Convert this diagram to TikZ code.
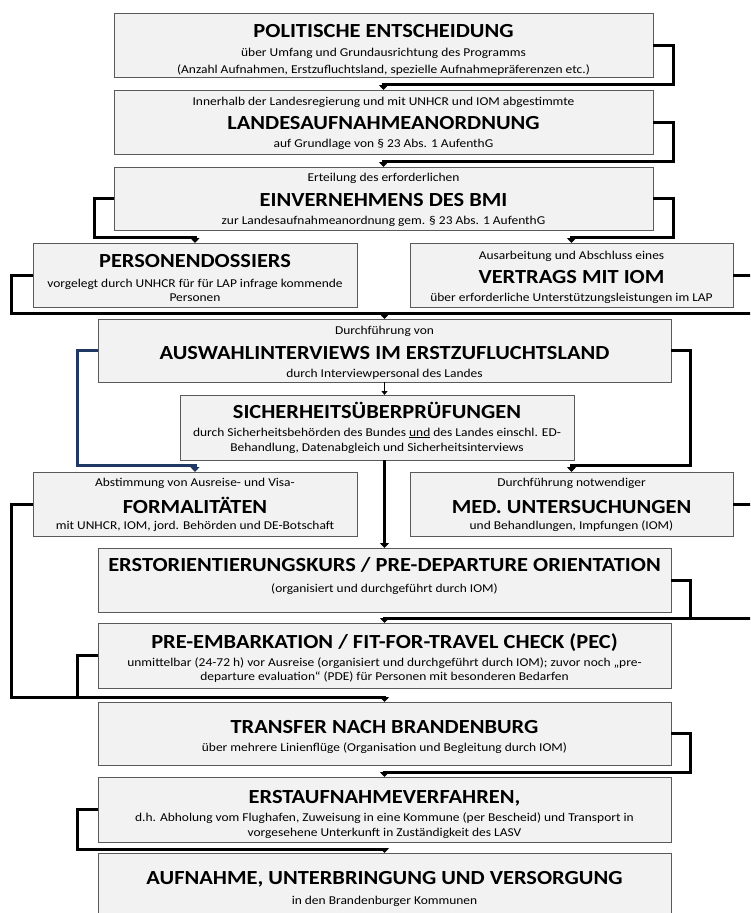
\documentclass[tikz,border=0pt]{standalone}
\usepackage{fontspec}
\setmainfont{Carlito}[FakeStretch=1.12]
\usetikzlibrary{arrows.meta,shadows}
\definecolor{boxfill}{HTML}{F2F2F2}
\definecolor{boxline}{HTML}{5A5A5A}
\definecolor{navy}{HTML}{1F3864}
\tikzset{
  box/.style={draw=boxline, line width=1pt, fill=boxfill, inner sep=0pt, outer sep=0pt,
    drop shadow={shadow xshift=1.2pt, shadow yshift=-1.2pt, fill=black!40, opacity=.5}},
  ttl/.style={anchor=base, yshift=-6.3pt, inner sep=0pt, font=\fontsize{20}{24}\selectfont\bfseries},
  sub/.style={anchor=base, yshift=-4.2pt, inner sep=0pt, font=\fontsize{12}{14}\selectfont},
  conn/.style={line width=3pt, line join=miter, -{Triangle[width=9pt,length=5pt]}},
  connplain/.style={line width=3pt, line join=miter},
  connthin/.style={line width=1.6pt, -{Triangle[width=6pt,length=4pt]}},
}
\begin{document}
\begin{tikzpicture}[x=1pt,y=-1pt]
\useasboundingbox (0,0) rectangle (750,913);
\clip (0,0) rectangle (750,913);
% boxes
\node[box, minimum width=539, minimum height=64] (b1) at (383.5,45) {};
\node[box, minimum width=539, minimum height=64] (b2) at (383.5,122) {};
\node[box, minimum width=539, minimum height=63] (b3) at (383.5,198.5) {};
\node[box, minimum width=324, minimum height=64] (pers) at (195,275) {};
\node[box, minimum width=323, minimum height=64] (vert) at (571.5,275) {};
\node[box, minimum width=573, minimum height=63] (ausw) at (384.5,350.5) {};
\node[box, minimum width=394, minimum height=65] (sich) at (377,427.5) {};
\node[box, minimum width=324, minimum height=64] (form) at (195,504) {};
\node[box, minimum width=323, minimum height=64] (med) at (571.5,504) {};
\node[box, minimum width=573, minimum height=64] (erst) at (384.5,580) {};
\node[box, minimum width=573, minimum height=65] (pre) at (384.5,655.5) {};
\node[box, minimum width=573, minimum height=63] (trans) at (384.5,733.5) {};
\node[box, minimum width=573, minimum height=65] (eauf) at (384.5,809.5) {};
\node[box, minimum width=573, minimum height=80] (aufn) at (384.5,893) {};
% texts
\node[ttl] (t1) at (383.5,31) {POLITISCHE ENTSCHEIDUNG};
\node[sub] (t1a) at (383.5,52) {über Umfang und Grundausrichtung des Programms};
\node[sub] (t1b) at (383.5,69) {(Anzahl Aufnahmen, Erstzufluchtsland, spezielle Aufnahmepräferenzen etc.)};
\node[sub] (t2a) at (383.5,101) {Innerhalb der Landesregierung und mit UNHCR und IOM abgestimmte};
\node[ttl] (t2) at (383.5,123) {LANDESAUFNAHMEANORDNUNG};
\node[sub] (t2b) at (383.5,143) {auf Grundlage von § 23 Abs. 1 AufenthG};
\node[sub] (t3a) at (383.5,177) {Erteilung des erforderlichen};
\node[ttl] (t3) at (383.5,200) {EINVERNEHMENS DES BMI};
\node[sub] (t3b) at (383.5,220) {zur Landesaufnahmeanordnung gem. § 23 Abs. 1 AufenthG};
\node[ttl] (tp) at (195,261) {PERSONENDOSSIERS};
\node[sub] (tpa) at (195,283) {vorgelegt durch UNHCR für für LAP infrage kommende};
\node[sub] (tpb) at (195,297) {Personen};
\node[sub] (tva) at (571.5,255) {Ausarbeitung und Abschluss eines};
\node[ttl] (tv) at (571.5,277) {VERTRAGS MIT IOM};
\node[sub] (tvb) at (571.5,297) {über erforderliche Unterstützungsleistungen im LAP};
\node[sub] (taa) at (384.5,330) {Durchführung von};
\node[ttl] (ta) at (384.5,353) {AUSWAHLINTERVIEWS IM ERSTZUFLUCHTSLAND};
\node[sub] (tab) at (384.5,373) {durch Interviewpersonal des Landes};
\node[ttl] (ts) at (377,412) {SICHERHEITSÜBERPRÜFUNGEN};
\node[sub] (tsa) at (377,432) {durch Sicherheitsbehörden des Bundes \underline{und} des Landes einschl. ED-};
\node[sub] (tsb) at (377,447) {Behandlung, Datenabgleich und Sicherheitsinterviews};
\node[sub] (tfa) at (195,482) {Abstimmung von Ausreise- und Visa-};
\node[ttl] (tf) at (195,507) {FORMALITÄTEN};
\node[sub] (tfb) at (195,525) {mit UNHCR, IOM, jord. Behörden und DE-Botschaft};
\node[sub] (tma) at (571.5,482) {Durchführung notwendiger};
\node[ttl] (tm) at (571.5,507) {MED. UNTERSUCHUNGEN};
\node[sub] (tmb) at (571.5,525) {und Behandlungen, Impfungen (IOM)};
\node[ttl] (te) at (384.5,565) {ERSTORIENTIERUNGSKURS / PRE-DEPARTURE ORIENTATION};
\node[sub] (tea) at (384.5,588) {(organisiert und durchgeführt durch IOM)};
\node[ttl] (tq) at (384.5,642) {PRE-EMBARKATION / FIT-FOR-TRAVEL CHECK (PEC)};
\node[sub] (tqa) at (384.5,662) {unmittelbar (24-72 h) vor Ausreise (organisiert und durchgeführt durch IOM); zuvor noch „pre-};
\node[sub] (tqb) at (384.5,676) {departure evaluation“ (PDE) für Personen mit besonderen Bedarfen};
\node[ttl] (tt) at (384.5,727) {TRANSFER NACH BRANDENBURG};
\node[sub] (tta) at (384.5,747) {über mehrere Linienflüge (Organisation und Begleitung durch IOM)};
\node[ttl] (tu) at (384.5,797) {ERSTAUFNAHMEVERFAHREN,};
\node[sub] (tua) at (384.5,817) {d.h. Abholung vom Flughafen, Zuweisung in eine Kommune (per Bescheid) und Transport in};
\node[sub] (tub) at (384.5,832) {vorgesehene Unterkunft in Zuständigkeit des LASV};
\node[ttl] (tn) at (384.5,878) {AUFNAHME, UNTERBRINGUNG UND VERSORGUNG};
\node[sub] (tna) at (384.5,900) {in den Brandenburger Kommunen};
% connectors
\draw[conn] (b1.east) -- ++(20,0) |- ([yshift=6pt]b2.north) -- (b2.north);
\draw[conn] (b2.east) -- ++(20,0) |- ([yshift=6pt]b3.north) -- (b3.north);
\draw[conn] (b3.west) -- ++(-20,0) |- ([yshift=6pt]pers.north) -- (pers.north);
\draw[conn] (b3.east) -- ++(20,0) |- ([yshift=6pt]vert.north) -- (vert.north);
\draw[conn] (pers.west) -- ++(-22,0) |- ([yshift=6pt]ausw.north) -- (ausw.north);
\draw[connplain] (vert.east) -- ++(21,0) |- ([yshift=6pt]ausw.north);
\draw[connthin] (ausw.south) -- (ausw.south |- sich.north);
\draw[conn, navy] (ausw.west) -- ++(-21,0) |- ([yshift=7pt]form.north) -- (form.north);
\draw[conn] (ausw.east) -- ++(19,0) |- ([yshift=7pt]med.north) -- (med.north);
\draw[conn] (ausw.south |- sich.south) -- (erst.north);
\draw[conn] (form.west) -- ++(-22,0) |- ([yshift=5pt]trans.north) -- (trans.north);
\draw[connplain] (pre.west) -- ++(-21,0) |- ([yshift=5pt]trans.north);
\draw[conn] (med.east) -- ++(21,0) |- ([yshift=5pt]pre.north) -- (pre.north);
\draw[connplain] (erst.east) -- ++(19,0) |- ([yshift=5pt]pre.north);
\draw[conn] (trans.east) -- ++(19,0) |- ([yshift=5pt]eauf.north) -- (eauf.north);
\draw[conn] (eauf.west) -- ++(-21,0) |- ([yshift=4pt]aufn.north) -- (aufn.north);
\end{tikzpicture}
\end{document}
